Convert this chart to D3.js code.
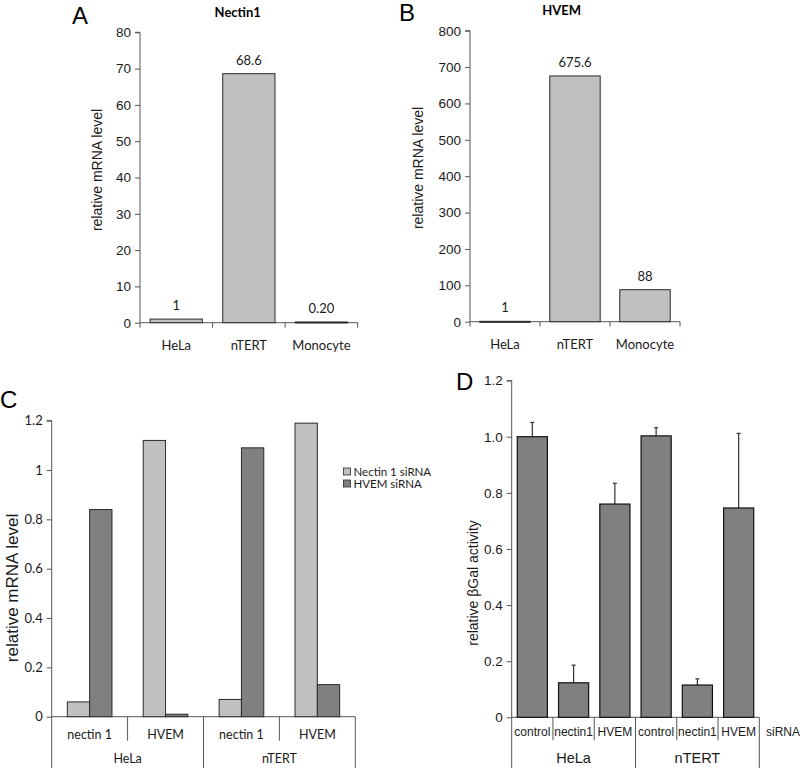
<!DOCTYPE html>
<html><head><meta charset="utf-8">
<script src="https://cdn.jsdelivr.net/npm/d3@7"></script>
<style>body{margin:0;background:#fff}svg{display:block}</style>
</head><body>
<svg id="chart" width="800" height="768"></svg>
<script>
// ---------- DATA ----------
const abCategories = ["HeLa", "nTERT", "Monocyte"];
const nectin1Values = [1, 68.6, 0.20];
const nectin1Labels = ["1", "68.6", "0.20"];
const nectin1Ticks = [0, 10, 20, 30, 40, 50, 60, 70, 80];
const hvemValues = [1, 675.6, 88];
const hvemLabels = ["1", "675.6", "88"];
const hvemTicks = [0, 100, 200, 300, 400, 500, 600, 700, 800];

const cCellLines = ["HeLa", "nTERT"];
const cTargets = ["nectin 1", "HVEM"];
const cSeries = ["Nectin 1 siRNA", "HVEM siRNA"];
const cNectinSiRNA = [0.06, 1.12, 0.07, 1.19];
const cHvemSiRNA = [0.84, 0.01, 1.09, 0.13];
const cTicks = [0, 0.2, 0.4, 0.6, 0.8, 1, 1.2];

const dCellLines = ["HeLa", "nTERT"];
const dSiRNA = ["control", "nectin1", "HVEM"];
const dValues = [1.0, 0.123, 0.76, 1.003, 0.115, 0.746];
const dErrors = [0.051, 0.063, 0.074, 0.029, 0.022, 0.266];
const dTicks = [0, 0.2, 0.4, 0.6, 0.8, 1.0, 1.2];

// ---------- STYLE ----------
const ARIAL = "'Liberation Sans', Arial, sans-serif";
const CALIBRI = "Lato, 'Open Sans', sans-serif";
const LIGHT = "#c0c0c0", DARK = "#808080", STROKE = "#2a2a2a", AXIS = "#555", TXT = "#1a1a1a";

const svg = d3.select("#chart");

function panelLetter(t, x, y) {
  svg.append("text").attr("x", x).attr("y", y).text(t)
    .attr("font-family", ARIAL).attr("font-size", 24).attr("fill", "#000");
}

function yAxis(g, y, ticks, x0, fmt, font, fsize) {
  const ax = d3.axisLeft(y).tickValues(ticks).tickSize(5).tickPadding(4).tickFormat(fmt);
  const a = g.append("g").attr("transform", `translate(${x0},0)`).call(ax);
  a.select(".domain").attr("stroke", AXIS).attr("d", `M-5,${y(ticks[ticks.length-1])}H0V${y(0)}`);
  a.selectAll(".tick line").attr("stroke", AXIS);
  a.selectAll(".tick text").attr("font-family", font).attr("font-size", fsize).attr("fill", TXT);
  return a;
}

// ---------- PANELS A & B ----------
function simplePanel(opts) {
  const g = svg.append("g");
  const x = d3.scaleBand().domain(abCategories).range(opts.xr).padding(0);
  const y = d3.scaleLinear().domain([0, opts.ticks[opts.ticks.length-1]]).range(opts.yr);
  yAxis(g, y, opts.ticks, opts.xr[0], d3.format("d"), ARIAL, 13.5);
  g.append("line").attr("x1", opts.xr[0]).attr("x2", opts.xr[1]).attr("y1", y(0)).attr("y2", y(0)).attr("stroke", AXIS);
  const edges = abCategories.map(c => x(c)).concat([opts.xr[1]]);
  g.selectAll(".edge").data(edges).join("line")
    .attr("x1", d => d).attr("x2", d => d).attr("y1", y(0)).attr("y2", y(0) + 5).attr("stroke", AXIS);
  const bw = x.bandwidth() * opts.barFrac;
  g.selectAll(".bar").data(opts.values).join("rect")
    .attr("x", (d, i) => x(abCategories[i]) + (x.bandwidth() - bw) / 2)
    .attr("width", bw)
    .attr("y", d => y(d)).attr("height", d => Math.max(1, y(0) - y(d)))
    .attr("fill", LIGHT).attr("stroke", STROKE).attr("stroke-width", 1);
  g.selectAll(".vl").data(opts.values).join("text")
    .attr("x", (d, i) => x(abCategories[i]) + x.bandwidth() / 2)
    .attr("y", d => y(d) - 9)
    .attr("text-anchor", "middle").attr("font-family", CALIBRI).attr("font-size", 13).attr("fill", TXT)
    .text((d, i) => opts.labels[i]);
  g.selectAll(".cl").data(abCategories).join("text")
    .attr("x", d => x(d) + x.bandwidth() / 2).attr("y", y(0) + 27)
    .attr("text-anchor", "middle").attr("font-family", CALIBRI).attr("font-size", 13).attr("fill", TXT)
    .text(d => d);
  g.append("text").attr("transform", `translate(${opts.ylx},${opts.yly}) rotate(-90)`)
    .attr("text-anchor", "middle").attr("dy", "0.35em")
    .attr("font-family", ARIAL).attr("font-size", 14).attr("fill", TXT).text("relative mRNA level");
  g.append("text").attr("x", opts.tx).attr("y", opts.ty).attr("text-anchor", "middle")
    .attr("font-family", CALIBRI).attr("font-weight", "bold").attr("font-size", 13).attr("fill", "#000").text(opts.title);
}

simplePanel({values: nectin1Values, labels: nectin1Labels, ticks: nectin1Ticks,
  xr: [140, 357.7], yr: [322.7, 32.3], barFrac: 0.72, ylx: 96.7, yly: 170, tx: 237.7, ty: 17, title: "Nectin1"});
simplePanel({values: hvemValues, labels: hvemLabels, ticks: hvemTicks,
  xr: [470, 680], yr: [321.7, 30.7], barFrac: 0.72, ylx: 418, yly: 168, tx: 561.7, ty: 15, title: "HVEM"});
panelLetter("A", 72, 24);
panelLetter("B", 399, 21);

// ---------- PANEL C ----------
(function () {
  const g = svg.append("g");
  const groups = [];
  cCellLines.forEach(c => cTargets.forEach(t => groups.push(c + "|" + t)));
  const x0 = d3.scaleBand().domain(groups).range([51.7, 355.3]).padding(0);
  const x1 = d3.scaleBand().domain(cSeries).range([0, x0.bandwidth()]).paddingInner(0).paddingOuter(0.7);
  const y = d3.scaleLinear().domain([0, 1.2]).range([716.7, 420.7]);
  yAxis(g, y, cTicks, 51.7, d => d === 0 ? "0" : d3.format("")(+d.toFixed(1)), CALIBRI, 13);
  g.append("line").attr("x1", 51.7).attr("x2", 355.3).attr("y1", y(0)).attr("y2", y(0)).attr("stroke", AXIS);
  const seriesVals = [cNectinSiRNA, cHvemSiRNA];
  const colors = [LIGHT, DARK];
  seriesVals.forEach((vals, si) => {
    g.selectAll(".b" + si).data(vals).join("rect")
      .attr("x", (d, i) => x0(groups[i]) + x1(cSeries[si]))
      .attr("width", x1.bandwidth())
      .attr("y", d => y(d)).attr("height", d => y(0) - y(d))
      .attr("fill", colors[si]).attr("stroke", STROKE).attr("stroke-width", 1);
  });
  const innerEdges = [x0(groups[1]), x0(groups[3])];
  const outerEdges = [x0(groups[0]), x0(groups[2]), 355.3];
  g.selectAll(".se").data(innerEdges).join("line")
    .attr("x1", d => d).attr("x2", d => d).attr("y1", y(0)).attr("y2", y(0) + 24).attr("stroke", AXIS);
  g.selectAll(".oe").data(outerEdges).join("line")
    .attr("x1", d => d).attr("x2", d => d).attr("y1", y(0)).attr("y2", 768).attr("stroke", AXIS);
  g.selectAll(".tl").data(groups).join("text")
    .attr("x", d => x0(d) + x0.bandwidth() / 2).attr("y", y(0) + 22)
    .attr("text-anchor", "middle").attr("font-family", CALIBRI).attr("font-size", 12.5).attr("fill", TXT)
    .text(d => d.split("|")[1]);
  g.selectAll(".cl").data(cCellLines).join("text")
    .attr("x", d => x0(d + "|" + cTargets[0]) + x0.bandwidth()).attr("y", y(0) + 46)
    .attr("text-anchor", "middle").attr("font-family", CALIBRI).attr("font-size", 12.5).attr("fill", TXT)
    .text(d => d);
  const lg = g.append("g").attr("transform", "translate(343.5,468)");
  cSeries.forEach((s, i) => {
    lg.append("rect").attr("x", 0).attr("y", i * 12).attr("width", 7).attr("height", 7)
      .attr("fill", colors[i]).attr("stroke", STROKE).attr("stroke-width", 0.8);
    lg.append("text").attr("x", 10).attr("y", i * 12 + 7.5).attr("font-family", CALIBRI)
      .attr("font-size", 11.5).attr("fill", TXT).text(s);
  });
  g.append("text").attr("transform", "translate(12,588) rotate(-90)")
    .attr("text-anchor", "middle").attr("dy", "0.35em")
    .attr("font-family", ARIAL).attr("font-size", 17).attr("fill", TXT).text("relative mRNA level");
})();
panelLetter("C", 0, 408);

// ---------- PANEL D ----------
(function () {
  const g = svg.append("g");
  const keys = [];
  dCellLines.forEach(c => dSiRNA.forEach(s => keys.push(c + "|" + s)));
  const x = d3.scaleBand().domain(keys).range([511.7, 759.3]).padding(0);
  const y = d3.scaleLinear().domain([0, 1.2]).range([717.3, 380.6]);
  yAxis(g, y, dTicks, 511.7, d => d === 0 ? "0" : d3.format(".1f")(d), ARIAL, 13.5);
  g.append("line").attr("x1", 511.7).attr("x2", 759.3).attr("y1", y(0)).attr("y2", y(0)).attr("stroke", AXIS);
  const bw = x.bandwidth() * 0.73;
  g.selectAll(".eb").data(dValues).join("line")
    .attr("x1", (d, i) => x(keys[i]) + x.bandwidth() / 2).attr("x2", (d, i) => x(keys[i]) + x.bandwidth() / 2)
    .attr("y1", d => y(d)).attr("y2", (d, i) => y(d + dErrors[i])).attr("stroke", "#333").attr("stroke-width", 1.2);
  g.selectAll(".ec").data(dValues).join("line")
    .attr("x1", (d, i) => x(keys[i]) + x.bandwidth() / 2 - 2).attr("x2", (d, i) => x(keys[i]) + x.bandwidth() / 2 + 2)
    .attr("y1", (d, i) => y(d + dErrors[i])).attr("y2", (d, i) => y(d + dErrors[i])).attr("stroke", "#333").attr("stroke-width", 1.2);
  g.selectAll(".bar").data(dValues).join("rect")
    .attr("x", (d, i) => x(keys[i]) + (x.bandwidth() - bw) / 2).attr("width", bw)
    .attr("y", d => y(d)).attr("height", d => y(0) - y(d))
    .attr("fill", DARK).attr("stroke", "#111").attr("stroke-width", 1.2);
  const inner = keys.filter((k, i) => i % 3 !== 0).map(k => x(k));
  const outer = [x(keys[0]), x(keys[3]), 759.3];
  g.selectAll(".se").data(inner).join("line")
    .attr("x1", d => d).attr("x2", d => d).attr("y1", y(0)).attr("y2", y(0) + 23).attr("stroke", AXIS);
  g.selectAll(".oe").data(outer).join("line")
    .attr("x1", d => d).attr("x2", d => d).attr("y1", y(0)).attr("y2", 768).attr("stroke", AXIS);
  g.selectAll(".sl").data(keys).join("text")
    .attr("x", d => x(d) + x.bandwidth() / 2).attr("y", y(0) + 18.5)
    .attr("text-anchor", "middle").attr("font-family", ARIAL).attr("font-size", 12).attr("fill", TXT)
    .text(d => d.split("|")[1]);
  g.selectAll(".cl").data(dCellLines).join("text")
    .attr("x", d => x(d + "|" + dSiRNA[1]) + x.bandwidth() / 2).attr("y", y(0) + 46)
    .attr("text-anchor", "middle").attr("font-family", ARIAL).attr("font-size", 14.5).attr("fill", TXT)
    .text(d => d);
  g.append("text").attr("x", 783).attr("y", y(0) + 18.5).attr("text-anchor", "middle")
    .attr("font-family", ARIAL).attr("font-size", 12).attr("fill", TXT).text("siRNA");
  g.append("text").attr("transform", "translate(473,583) rotate(-90)")
    .attr("text-anchor", "middle").attr("dy", "0.35em")
    .attr("font-family", ARIAL).attr("font-size", 14).attr("fill", TXT).text("relative βGal activity");
})();
panelLetter("D", 456, 390);
</script>
</body></html>
